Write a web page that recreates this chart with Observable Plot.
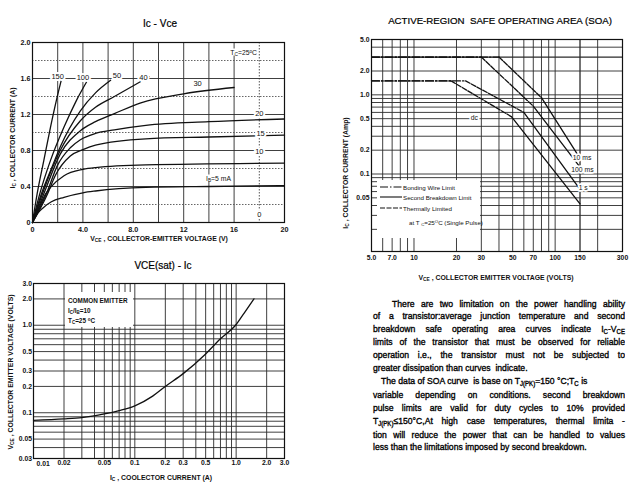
<!DOCTYPE html>
<html><head><meta charset="utf-8">
<script src="https://cdn.jsdelivr.net/npm/d3@7"></script>
<script src="https://cdn.jsdelivr.net/npm/@observablehq/plot@0.6"></script>
<style>
body{margin:0;background:#fff;font-family:"Liberation Sans",Arial,sans-serif;color:#111;}
#page{position:relative;width:642px;height:491px;overflow:hidden;background:#fff;}
#page svg{position:absolute;}
.title{position:absolute;font-size:10px;white-space:nowrap;transform:translate(-50%,-50%);color:#000;-webkit-text-stroke:0.2px #000;}
.axl{position:absolute;font-size:6.9px;font-weight:bold;white-space:nowrap;transform:translate(-50%,-50%);color:#111;}
.axl.rot{transform:translate(-50%,-50%) rotate(-90deg);}
.note{position:absolute;font-size:6.8px;white-space:nowrap;color:#111;}
sub{font-size:70%;vertical-align:-0.3em;line-height:0;}
sup{font-size:70%;vertical-align:0.35em;line-height:0;}
.box{position:absolute;background:#fff;}
.para{position:absolute;font-size:9.6px;line-height:11px;white-space:nowrap;color:#000;-webkit-text-stroke:0.35px #000;transform-origin:0 0;transform:scaleX(0.9);}
.j{text-align:justify;text-align-last:justify;white-space:normal;}
.leg{position:absolute;font-size:6.2px;white-space:nowrap;color:#111;}
</style>
</head><body>
<div id="page"></div>
<script>
// ================= DATA =================
// Panel 1: Ic - Vce
const p1XTicks = [0, 4, 8, 12, 16, 20];
const p1XTickLabels = ["0", "4.0", "8.0", "12", "16", "20"];
const p1YTicks = [0, 0.4, 0.8, 1.2, 1.6, 2.0];
const p1YTickLabels = ["0", "0.4", "0.8", "1.2", "1.6", "2.0"];
const p1GridX = [2, 4, 6, 8, 10, 12, 14, 16];
const p1GridXDotted = [18];
const p1GridY = [0.4, 0.8, 1.2, 1.6];
const p1GridYDotted = [0.2, 0.6, 1.0, 1.4, 1.8];
const ibCurves = {
  "150": [[0,0],[0.37,0.32],[0.9,0.69],[1.43,1.06],[1.9,1.36],[2.3,1.59]],
  "100": [[0,0],[0.58,0.32],[1.43,0.69],[2.5,1.06],[3.5,1.36],[4.45,1.6]],
  "50":  [[0,0],[0.71,0.32],[1.5,0.6],[2.2,0.84],[3.8,1.24],[5,1.44],[6.2,1.58]],
  "40":  [[0,0],[0.79,0.32],[1.5,0.58],[2.2,0.8],[3.8,1.13],[5,1.28],[6.5,1.4],[8,1.52],[9.25,1.62]],
  "30":  [[0,0],[0.9,0.32],[2.2,0.76],[3.8,1.02],[5,1.12],[6.5,1.21],[8.6,1.33],[12,1.43],[16,1.5]],
  "20":  [[0,0],[1.1,0.32],[2,0.64],[3,0.83],[3.8,0.92],[5,0.99],[6.5,1.03],[9,1.08],[14,1.12],[20,1.15]],
  "15":  [[0,0],[1.2,0.32],[1.8,0.52],[3,0.74],[4,0.81],[5,0.86],[9,0.93],[14,0.95],[20,0.97]],
  "10":  [[0,0],[0.6,0.19],[1.05,0.32],[1.43,0.39],[2.5,0.52],[4,0.59],[5,0.61],[9,0.64],[20,0.66]],
  "5":   [[0,0],[0.4,0.1],[0.9,0.17],[1.5,0.23],[2.5,0.28],[4,0.33],[5,0.35],[9,0.39],[14,0.4],[20,0.41]]
};
const p1LabelText = ["150", "100", "50", "40", "30", "20", "15", "10", "0"];
const p1LabelX = [2.0, 4.0, 6.7, 8.8, 13.1, 18.0, 18.1, 18.0, 18.0];
const p1LabelY = [1.62, 1.61, 1.63, 1.61, 1.54, 1.21, 0.99, 0.79, 0.09];

// Panel 2: SOA
const soaXTicks = [5, 7, 10, 20, 30, 50, 70, 100, 150, 300];
const soaXTickLabels = ["5.0", "7.0", "10", "20", "30", "50", "70", "100", "150", "300"];
const soaYTicks = [5, 2, 1, 0.5, 0.2, 0.1, 0.05];
const soaYTickLabels = ["5.0", "2.0", "1.0", "0.5", "0.2", "0.1", "0.05"];
const soaGridX = [6, 7, 8, 9, 10, 20, 30, 40, 50, 60, 70, 80, 90, 100, 150, 200];
const soaGridY = [4, 3, 2, 1, 0.9, 0.8, 0.7, 0.6, 0.5, 0.4, 0.3, 0.2, 0.1, 0.09, 0.08, 0.07, 0.06, 0.05, 0.04, 0.03, 0.02];
const soaBond = {
  "dc":     [[5,1.5],[18.3,1.5]],
  "1 s":    [[5,1.5],[23.2,1.5]],
  "100 ms": [[5,3.0],[30,3.0]],
  "10 ms":  [[5,3.0],[40,3.0]]
};
const soaThermal = {
  "dc":     [[18.3,1.5],[49,0.53]],
  "1 s":    [[23.2,1.5],[60,0.6]],
  "100 ms": [[30,3.0],[70,0.72]],
  "10 ms":  [[40,3.0],[80,0.92]]
};
const soaSecond = {
  "dc":     [[49,0.53],[150,0.042]],
  "1 s":    [[60,0.6],[150,0.064]],
  "100 ms": [[70,0.72],[150,0.122]],
  "10 ms":  [[80,0.92],[150,0.158]]
};
const soaLabelText = ["dc", "10 ms", "100 ms", "1 s"];
const soaLabelX = [26.8, 155, 156, 158];
const soaLabelY = [0.51, 0.158, 0.112, 0.066];

// Panel 3: VCE(sat) - Ic
const p3XTicks = [0.01, 0.02, 0.05, 0.1, 0.2, 0.3, 0.5, 1.0, 2.0, 3.0];
const p3XTickLabels = ["0.01", "0.02", "0.05", "0.1", "0.2", "0.3", "0.5", "1.0", "2.0", "3.0"];
const p3YTicks = [3, 2, 1, 0.5, 0.3, 0.2, 0.1, 0.05, 0.03];
const p3YTickLabels = ["3.0", "2.0", "1.0", "0.5", "0.3", "0.2", "0.1", "0.05", "0.03"];
const p3GridX = [0.02,0.03,0.04,0.05,0.06,0.07,0.08,0.09,0.1,0.2,0.3,0.4,0.5,0.6,0.7,0.8,0.9,1.0,2.0];
const p3GridY = [2,1,0.9,0.8,0.7,0.6,0.5,0.4,0.3,0.2,0.1,0.09,0.08,0.07,0.06,0.05,0.04];
const satIc  = [0.01, 0.02, 0.03, 0.05, 0.07, 0.1, 0.15, 0.2, 0.3, 0.5, 0.7, 1.0, 1.2, 1.5];
const satVce = [0.082, 0.085, 0.088, 0.097, 0.106, 0.12, 0.155, 0.2, 0.28, 0.47, 0.7, 1.02, 1.38, 2.0];

// ================= RENDER =================
const page = document.getElementById("page");
const FONT = "Liberation Sans, Arial, sans-serif";
const GRID = "#2a2a2a";
function add(el, left, top) { el.style.left = left + "px"; el.style.top = top + "px"; page.appendChild(el); return el; }
function div(cls, html, left, top) { const d = document.createElement("div"); d.className = cls; d.innerHTML = html; return add(d, left, top); }
const rows = obj => Object.entries(obj).flatMap(([k, pts]) => pts.map(([x, y]) => ({k, x, y})));
// tick labels drawn as text marks positioned by the scales
function xTickText(ticks, labels, pad, size, extra = {}) {
  return Plot.text(ticks, {x: d => d, frameAnchor: "bottom", lineAnchor: "top", dy: pad, text: (d, i) => labels[i],
    fontSize: size, fontWeight: "bold", fill: "#111", ...extra});
}
function yTickText(ticks, labels, pad, size) {
  return Plot.text(ticks, {y: d => d, frameAnchor: "left", textAnchor: "end", dx: -pad, text: (d, i) => labels[i], fontSize: size, fontWeight: "bold", fill: "#111"});
}

// ---- Panel 1 ----
const c1 = Plot.plot({
  width: 310, height: 245, marginLeft: 32, marginRight: 26, marginTop: 42, marginBottom: 23,
  style: {fontFamily: FONT, background: "transparent", overflow: "visible", color: "#111"},
  x: {domain: [0, 20], axis: null}, y: {domain: [0, 2], axis: null},
  marks: [
    Plot.ruleX(p1GridX, {stroke: GRID, strokeWidth: 0.9}),
    Plot.ruleX(p1GridXDotted, {stroke: "#444", strokeWidth: 0.9, strokeDasharray: "1.5,1.5"}),
    Plot.ruleY(p1GridY, {stroke: GRID, strokeWidth: 0.9}),
    Plot.ruleY(p1GridYDotted, {stroke: "#555", strokeWidth: 0.9, strokeDasharray: "1.5,1.5"}),
    Plot.line(rows(ibCurves), {x: "x", y: "y", z: "k", curve: "monotone-x", stroke: "#111", strokeWidth: 1.3}),
    Plot.text(p1LabelText, {x: (d, i) => p1LabelX[i], y: (d, i) => p1LabelY[i], text: d => d, fontSize: 7.5, fill: "#111", stroke: "white", strokeWidth: 4}),
    Plot.frame({stroke: "#111", strokeWidth: 1.2}),
    xTickText(p1XTicks, p1XTickLabels, 4, 7.2),
    yTickText(p1YTicks, p1YTickLabels, 2, 7.2)
  ]
});
add(c1, 0, 0);
div("title", "Ic - Vce", 160, 22.5);
div("axl", "V<sub>CE</sub> , COLLECTOR-EMITTER VOLTAGE (V)", 159, 238);
div("axl rot", "I<sub>C</sub> , COLLECTOR CURRENT (A)", 12, 138);
{
  const sx = c1.scale("x"), sy = c1.scale("y");
  const t = div("note", "T<sub>C</sub>=25<sup>o</sup>C", 0, 0);
  t.style.transform = "translate(-50%,-50%)"; t.style.background = "#fff"; t.style.padding = "0 1px";
  t.style.left = sx.apply(16.8) + "px"; t.style.top = sy.apply(1.89) + "px";
  const b = div("note", "I<sub>B</sub>=5 mA", 0, 0);
  b.style.transform = "translate(-50%,-50%)"; b.style.background = "#fff"; b.style.padding = "0 1px";
  b.style.left = sx.apply(14.8) + "px"; b.style.top = sy.apply(0.49) + "px";
}

// ---- Panel 2 (SOA) ----
const c2 = Plot.plot({
  width: 322, height: 290, marginLeft: 51, marginRight: 20, marginTop: 39, marginBottom: 39,
  style: {fontFamily: FONT, background: "transparent", overflow: "visible", color: "#111"},
  x: {type: "log", domain: [5, 300], axis: null}, y: {type: "log", domain: [0.0105, 5], axis: null},
  marks: [
    Plot.ruleX(soaGridX, {stroke: GRID, strokeWidth: d => d === 150 ? 1.3 : 0.9}),
    Plot.ruleY(soaGridY, {stroke: GRID, strokeWidth: d => d === 3 ? 1.2 : 0.9}),
    Plot.line(rows(soaBond), {x: "x", y: "y", z: "k", stroke: "#111", strokeWidth: 1.3, strokeDasharray: "8,2,1.5,2"}),
    Plot.line(rows(soaThermal), {x: "x", y: "y", z: "k", stroke: "#111", strokeWidth: 1.3, strokeDasharray: "5,1.5"}),
    Plot.line(rows(soaSecond), {x: "x", y: "y", z: "k", stroke: "#111", strokeWidth: 1.3}),
    Plot.text(soaLabelText, {x: (d, i) => soaLabelX[i], y: (d, i) => soaLabelY[i], text: d => d, textAnchor: (d, i) => i === 0 ? "middle" : "start", fontSize: 6.8, fill: "#111", stroke: "white", strokeWidth: 3.5}),
    Plot.frame({stroke: "#111", strokeWidth: 1.2}),
    xTickText(soaXTicks, soaXTickLabels, 3.5, 6.8),
    yTickText(soaYTicks, soaYTickLabels, 2, 6.8)
  ]
});
add(c2, 320, 0);
div("title", "ACTIVE-REGION&nbsp; SAFE OPERATING AREA (SOA)", 500, 19.5).style.fontSize = "9.7px";
div("axl", "V<sub>CE</sub> , COLLECTOR EMITTER VOLTAGE (VOLTS)", 496, 277);
div("axl rot", "I<sub>C</sub> , COLLECTOR CURRENT (Amp)", 345, 173);
// legend box
{
  const box = div("box", "", 377, 180); box.style.width = "103px"; box.style.height = "58px";
  const keys = [["8,2,1.5,2", "Bonding Wire Limit", 187], ["", "Second Breakdown Limit", 197], ["5,1.5", "Thermally Limited", 208]];
  for (const [dash, txt, y] of keys) {
    const s = document.createElementNS("http://www.w3.org/2000/svg", "svg");
    s.setAttribute("width", 22); s.setAttribute("height", 4);
    s.innerHTML = `<line x1="0" x2="22" y1="2" y2="2" stroke="#111" stroke-width="1.1" ${dash ? `stroke-dasharray="${dash}"` : ""}/>`;
    add(s, 380, y - 2);
    const t = div("leg", txt, 403, y); t.style.transform = "translateY(-50%)";
  }
  const t = div("leg", "at T <sub>C</sub>=25<sup>O</sup>C (Single Pulse)", 409, 222); t.style.transform = "translateY(-50%)";
}

// ---- Panel 3 (VCE(sat) - Ic) ----
const c3 = Plot.plot({
  width: 300, height: 241, marginLeft: 33, marginRight: 16, marginTop: 33, marginBottom: 33,
  style: {fontFamily: FONT, background: "transparent", overflow: "visible", color: "#111"},
  x: {type: "log", domain: [0.01, 3], axis: null}, y: {type: "log", domain: [0.03, 3], axis: null},
  marks: [
    Plot.ruleX(p3GridX, {stroke: GRID, strokeWidth: 0.9}),
    Plot.ruleY(p3GridY, {stroke: GRID, strokeWidth: 0.9}),
    Plot.line(satIc, {x: d => d, y: (d, i) => satVce[i], curve: "monotone-x", stroke: "#111", strokeWidth: 1.3}),
    Plot.frame({stroke: "#111", strokeWidth: 1.2}),
    xTickText(p3XTicks, p3XTickLabels, 2, 6.8, {filter: (d, i) => i > 0}),
    xTickText(p3XTicks, p3XTickLabels, 2.5, 6.8, {filter: (d, i) => i === 0, textAnchor: "start", dx: 3}),
    yTickText(p3YTicks, p3YTickLabels, 1.5, 6.8)
  ]
});
add(c3, 0, 250);
div("title", "VCE(sat) - Ic", 163, 265);
div("axl", "I<sub>C</sub> , COOLECTOR CURRENT (A)", 161, 477);
div("axl rot", "V<sub>CE</sub> , COLLECTOR EMITTER VOLTAGE (VOLTS)", 10, 372);
{
  const box = div("box", "", 65, 292); box.style.width = "68px"; box.style.height = "35px";
  const lines = ["COMMON EMITTER", "I<sub>C</sub>/I<sub>B</sub>=10", "T<sub>C</sub>=25 <sup>o</sup>C"];
  [300, 310, 320].forEach((y, i) => {
    const t = div("leg", lines[i], 68, y); t.style.transform = "translateY(-50%)"; t.style.fontSize = "6.4px"; t.style.fontWeight = "bold";
  });
}

// ---- Text paragraph ----
const paraLines = [
  ["There are two limitation on the power handling ability", 392, 303.3, true],
  ["of a transistor:average junction temperature and second", 373, 315.7, true],
  ["breakdown safe operating area curves indicate I<sub>C</sub>-V<sub>CE</sub>", 373, 328.3, true],
  ["limits of the transistor that must be observed for reliable", 373, 341.7, true],
  ["operation i.e., the transistor must not be subjected to", 373, 354, true],
  ["greater dissipation than curves&nbsp; indicate.", 373, 367.3, false],
  ["The data of SOA curve&nbsp; is base on T<sub>J(PK)</sub>=150 °C;T<sub>C</sub> is", 381, 380, false],
  ["variable depending on conditions. second breakdown", 373, 394, true],
  ["pulse limits are valid for duty cycles to 10% provided", 373, 407, true],
  ["T<sub>J(PK)</sub>≤150°C,At high case temperatures, thermal limita -", 373, 420, true],
  ["tion will reduce the power that can be handled to values", 373, 434, true],
  ["less than the limitations imposed by second breakdown.", 373, 446.7, false]
];
for (const [txt, x, y, just] of paraLines) {
  const d = div("para" + (just ? " j" : ""), txt, x, y - 5.5);
  if (just) d.style.width = ((625 - x) / 0.9) + "px";
}
</script>
</body></html>
